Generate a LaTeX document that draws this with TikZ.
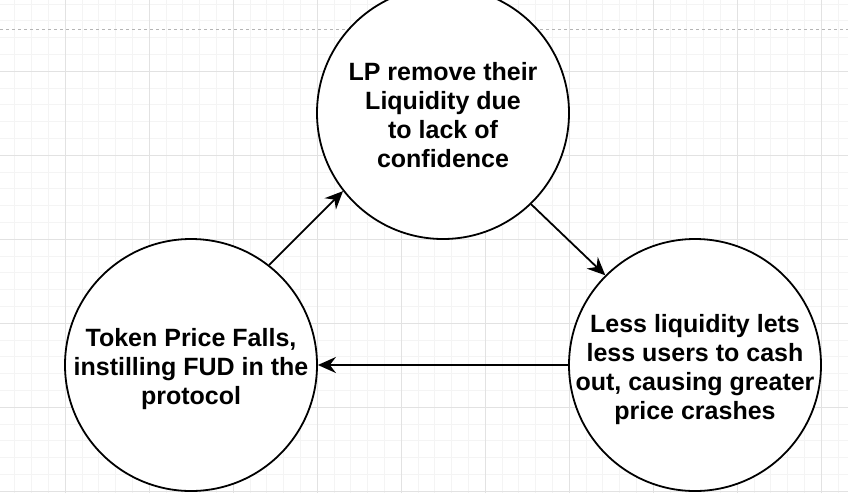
\documentclass[tikz,border=0pt]{standalone}
\usepackage{fontspec}
\setmainfont{Liberation Sans}
\usetikzlibrary{arrows.meta}
\definecolor{gridminor}{HTML}{F4F4F4}
\definecolor{gridmajor}{HTML}{E2E2E2}
\definecolor{pageline}{HTML}{B4B4B4}
\newcommand{\topgap}{\rule{0pt}{27pt}}
\tikzset{
    stage/.style={draw, circle, line width=1.8pt, fill=white, minimum size=252pt, inner sep=-30pt, align=center, font=\fontsize{25}{29}\selectfont\bfseries},
    flow/.style={-{Stealth[length=18pt, width=16pt, inset=6pt]}, line width=1.8pt}
}
\begin{document}
\begin{tikzpicture}[x=1pt, y=-1pt]
        % Background
        \useasboundingbox (0,0) rectangle (848,493);
        \fill[white] (0,0) rectangle (848,493);
        \begin{scope}[shift={(65,71)}]
            \draw[gridminor, step=16.8pt] (-65,-71) grid (783,422);
            \draw[gridmajor, step=84pt] (-65,-71) grid (783,422);
        \end{scope}
        \draw[pageline, dash pattern=on 3pt off 3pt] (0,29.5) -- (848,29.5);

        % Nodes
        \node[stage] (lp) at (443,113) {\rule{0pt}{23pt}LP remove their\\Liquidity due\\to lack of\\confidence};
        \node[stage] (price) at (191,365) {\topgap Token Price Falls,\\instilling FUD in the\\protocol};
        \node[stage] (crash) at (695,365) {\topgap Less liquidity lets\\less users to cash\\out, causing greater\\price crashes};

        % Edges
        \draw[flow] (price.52) -- (lp.218);
        \draw[flow] (lp.-46) -- (crash.135);
        \draw[flow] (crash) -- (price);
    \end{tikzpicture}
\end{document}
